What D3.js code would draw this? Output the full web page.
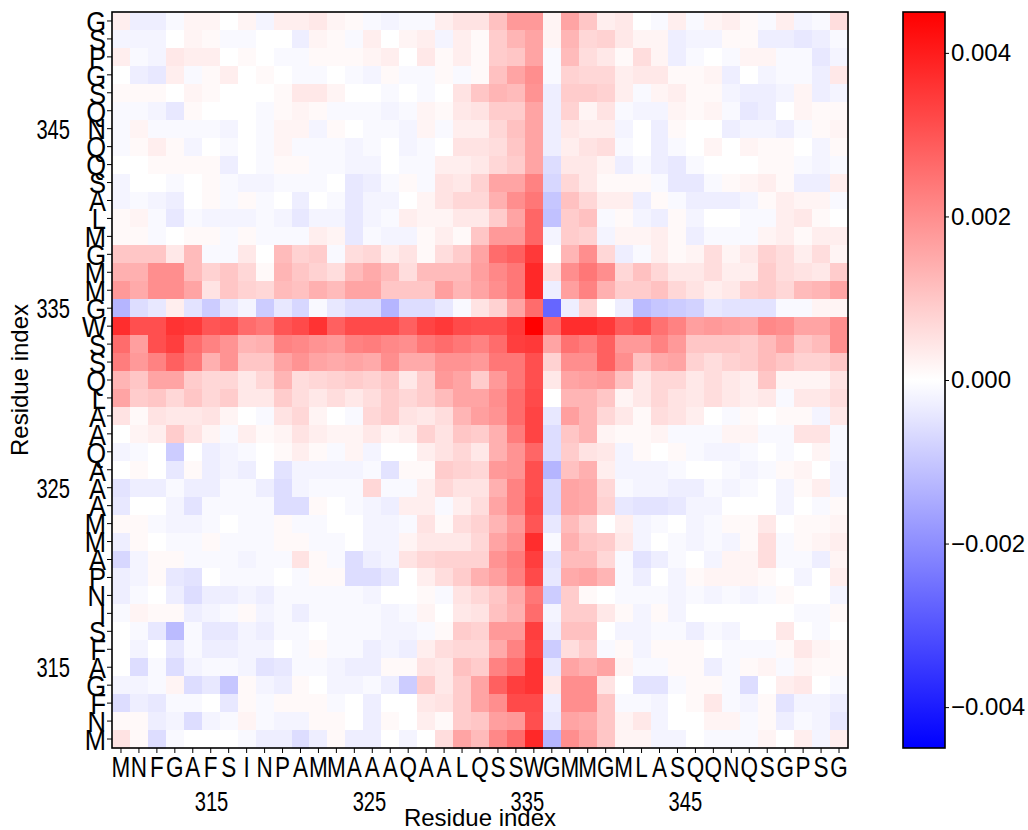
<!DOCTYPE html>
<html>
<head>
<meta charset="utf-8">
<script src="https://cdn.jsdelivr.net/npm/d3@7"></script>
<style>
  body { margin: 0; background: #fff; }
  svg { display: block; }
  text { font-family: "Liberation Sans", Arial, Helvetica, sans-serif; fill: #000; }
</style>
</head>
<body>
<svg id="chart" width="1028" height="830"></svg>
<script>
// Residue sequence along both axes, starting at residue 311
const sequence = ["M","N","F","G","A","F","S","I","N","P","A","M","M","A","A","A","Q","A","A","L",
                  "Q","S","S","W","G","M","M","G","M","L","A","S","Q","Q","N","Q","S","G","P","S","G"];
const firstResidue = 311;
const numberTicks = [315, 325, 335, 345];
const colorTicks = [0.004, 0.002, 0.000, -0.002, -0.004];
const colorLimit = 0.0045;
const valueUnit = 1e-4;

// Pairwise values in units of 1e-4; first row is residue 351 (top), last row residue 311 (bottom);
// columns run from residue 311 (left) to 351 (right).
const matrixRows = [
  [3,-3,-3,-1,2,2,0,2,-2,3,3,4,2,1,-1,-2,-1,-1,3,5,5,11,18,18,2,16,10,3,4,0,-1,3,-1,2,3,1,-1,3,-2,-1,6],
  [-2,-2,-2,0,2,1,-1,-1,0,0,-3,2,1,-1,3,0,2,3,-2,3,1,9,13,16,2,13,7,8,4,2,2,-3,-2,-2,1,1,-3,-3,-4,-3,-1],
  [3,-1,-2,4,3,3,0,1,0,-1,-1,1,1,1,2,3,0,4,1,3,1,9,10,16,-1,12,6,4,1,6,2,-3,-1,0,-1,2,2,-1,-1,-4,-2],
  [0,-3,-4,3,-1,1,3,0,1,0,-1,-1,0,-1,-2,1,-1,-1,1,-1,1,11,16,20,-1,8,7,7,3,4,4,1,1,2,-3,0,-2,-1,-1,-3,4],
  [1,1,1,0,2,1,0,0,0,1,4,4,2,0,0,-1,0,-1,0,5,10,13,12,19,-3,9,9,8,3,-1,2,3,1,1,-2,-3,-3,-2,2,-3,-2],
  [-1,-1,-2,-4,1,0,0,0,-1,1,2,1,-1,-1,-1,-2,-1,2,1,4,5,9,9,16,-3,8,2,5,-1,-2,-2,2,1,2,-1,-4,-3,0,2,1,1],
  [-1,2,-1,-1,-1,-1,-2,0,-1,2,2,-2,1,0,-1,-1,-2,2,-1,3,3,7,11,16,-3,4,3,3,-2,0,-3,1,0,0,-3,-2,-2,-3,-1,1,2],
  [-1,1,3,1,-2,0,-1,0,-1,2,-1,-1,-1,-2,-1,0,-2,-1,0,5,5,6,10,16,-3,3,5,6,-1,0,-3,-1,0,2,0,2,1,1,0,-2,1],
  [0,0,1,1,1,1,-3,0,-1,1,1,-1,-1,-2,-2,0,-1,-1,3,3,4,7,9,16,-6,4,4,2,-3,-1,-3,-4,-1,0,0,0,1,1,-1,-2,-1],
  [-2,0,0,-1,0,1,-1,-2,-2,-1,-1,-1,0,-4,-3,-1,1,-1,5,4,8,16,16,22,-7,7,4,1,1,1,-1,-4,-4,-1,1,2,3,1,-3,-3,3],
  [-2,-1,-2,-3,0,1,-1,1,-1,0,-3,0,-1,-4,-2,-2,0,2,5,7,7,14,20,24,-10,11,7,3,3,-3,1,-1,-3,-3,-3,-2,1,3,2,2,-1],
  [1,2,-1,-4,-1,-2,-2,-2,-1,-2,-4,-2,-2,-4,-2,-1,3,2,2,4,4,9,16,27,-11,9,11,-1,1,-2,-3,1,-2,0,0,-1,-1,3,4,1,0],
  [1,1,-1,0,1,1,-1,1,-1,-1,-1,3,2,-4,-1,-2,-2,1,3,1,10,18,18,27,-2,9,8,-2,2,2,3,1,-3,-1,-1,-1,2,3,1,3,3],
  [10,10,10,4,12,-1,-1,4,0,12,8,9,-1,6,7,3,5,1,6,9,16,26,28,35,0,13,20,7,-3,-1,3,1,2,6,2,4,8,6,3,6,2],
  [14,14,20,20,12,8,10,7,1,13,10,8,6,12,15,12,6,12,12,12,17,21,24,38,6,20,24,20,7,11,7,4,4,6,3,3,9,6,5,4,9],
  [18,15,20,20,16,5,10,8,7,12,11,14,12,16,16,10,10,10,17,13,16,20,24,38,-3,17,22,14,9,9,11,7,5,3,4,8,9,7,12,13,16],
  [-13,-6,-4,3,-5,-9,-4,-2,-9,-4,-7,-1,-4,-6,-6,-13,-6,-6,-4,-1,5,8,16,26,-27,-3,8,0,-3,-12,-10,-9,-8,-4,-5,-5,-5,-1,-1,2,2],
  [37,31,31,36,35,30,31,26,24,30,32,36,28,32,32,32,28,33,35,32,31,31,35,45,27,37,37,35,29,31,25,22,17,18,17,16,21,20,16,16,20],
  [26,17,31,34,26,22,19,13,14,22,21,19,18,22,23,21,20,24,26,24,22,26,34,35,16,25,23,28,18,18,22,18,10,10,10,9,12,16,10,12,20],
  [23,18,22,28,24,14,19,10,10,16,19,16,15,16,15,20,15,15,19,19,18,24,24,31,8,20,20,28,20,11,15,16,8,6,8,9,12,10,8,8,10],
  [13,10,16,16,9,7,7,4,7,13,6,7,8,9,8,10,4,9,18,16,9,18,24,31,4,16,17,18,11,4,7,7,4,6,4,3,10,2,2,2,5],
  [16,9,10,7,10,7,9,4,4,9,6,4,6,4,6,9,7,9,12,16,16,20,26,32,0,13,13,10,2,4,7,5,4,6,4,3,4,-1,4,4,6],
  [5,1,5,4,4,5,2,0,-1,5,7,2,0,-1,7,9,5,4,6,13,17,19,26,33,-4,17,13,7,4,1,6,5,3,0,-1,1,0,1,1,-2,4],
  [0,2,3,9,5,2,-1,3,1,2,5,3,2,2,4,2,3,8,5,10,9,14,23,33,-6,10,13,2,1,1,2,-1,-1,-1,2,2,-1,-1,5,5,-1],
  [-2,-1,0,-9,0,-3,-2,-1,0,1,3,1,-1,2,-2,0,0,3,5,7,4,14,19,27,-6,9,5,4,-2,1,0,1,-1,-2,-2,-1,0,-1,0,2,-1],
  [0,1,0,-4,1,-3,-2,-3,0,-5,-2,-2,-2,-2,-1,-5,1,1,9,8,7,18,19,31,-13,11,14,3,-2,-2,-2,-1,0,0,-1,-2,-1,1,2,0,-2],
  [-5,-3,-3,-1,-3,-3,-1,-1,-3,-6,-2,-1,-1,-1,7,-1,-1,3,7,5,5,14,22,31,-7,16,15,7,-1,-2,-2,-3,-3,-1,-2,-1,0,-2,1,3,-2],
  [-4,0,0,-2,-5,-1,-1,-1,-1,-6,-6,1,0,-1,-2,-3,3,3,-1,3,6,16,22,32,-7,16,15,8,-4,-5,-5,-4,-2,-2,0,0,0,-2,0,-1,1],
  [1,1,-1,-2,-2,-1,0,-1,-1,1,-1,-1,0,0,-2,-2,-1,5,1,6,8,13,18,30,-4,12,8,0,3,-2,-1,0,-2,-1,1,1,4,0,1,1,2],
  [-3,1,0,-1,-1,1,-1,-1,-1,1,1,-1,-1,0,-2,-2,2,4,4,4,7,16,20,37,-1,14,10,9,4,-2,0,-1,-2,-1,-2,1,6,-1,1,2,3],
  [-7,-2,1,1,-1,-1,-1,-2,-1,-1,5,1,-1,-6,-3,-2,5,7,8,8,8,19,23,34,-5,12,12,7,-1,-5,-3,-1,0,-2,2,2,6,-1,-1,-3,2],
  [-3,-2,1,-4,-5,0,-1,-1,-1,0,-1,1,1,-6,-6,-4,0,3,6,9,14,17,22,32,-4,15,16,13,-1,-3,0,-2,1,2,2,2,1,0,-2,0,3],
  [-3,-1,0,-3,-6,-3,-3,-2,-3,-1,-1,-1,-1,-1,-2,0,0,1,-1,5,7,10,15,24,-9,9,1,0,-1,-1,-1,-2,-1,-2,-1,-2,-1,1,0,0,-2],
  [-1,2,1,1,-3,-2,-1,1,-2,-1,-3,-1,-1,-1,-1,-2,-1,2,0,4,5,11,14,26,-2,9,9,4,1,-2,1,-2,0,0,0,0,0,0,-1,-1,1],
  [0,-1,-4,-12,-1,-4,-4,-2,-3,-1,-1,0,-1,-1,-1,-2,-2,-1,1,9,8,18,18,34,-3,11,11,0,-2,-2,-1,-1,-3,-1,-2,0,0,4,0,-1,0],
  [0,-2,0,-4,-1,-3,-3,-2,-2,0,-1,1,-1,-1,-3,-2,-3,3,6,7,7,15,22,33,-9,6,9,-1,1,-2,1,1,1,0,-1,-1,-1,1,4,2,1],
  [0,-6,-1,-6,-2,-1,-1,-2,-5,-4,-1,-1,-2,-3,-3,1,1,5,4,11,9,22,26,36,-4,16,14,16,2,-1,-1,1,1,-3,-1,1,2,-1,2,1,1],
  [-2,-2,-1,2,-6,-4,-10,1,-2,-3,1,0,-2,-2,-1,-3,-9,9,4,9,16,28,34,36,4,20,20,5,0,-5,-5,-1,1,1,-1,-6,0,3,4,0,-1],
  [-6,-3,-4,-1,-1,0,-4,1,-1,1,1,1,-1,0,-3,0,0,4,5,9,16,20,32,32,-3,20,20,10,-1,-1,-2,0,1,4,-1,-2,1,-5,-2,-2,-3],
  [1,1,-3,-2,-6,-2,-1,2,-1,-2,-2,1,1,0,-3,1,0,3,1,9,10,17,18,31,-4,16,15,10,2,4,-2,0,0,2,2,-1,1,-3,-1,-2,-4],
  [5,1,-6,-1,0,0,0,-1,-3,-3,-6,-3,1,-3,-3,0,-2,0,6,16,12,21,26,38,-13,20,16,10,2,2,-2,-2,0,-1,-1,-1,2,0,3,-2,3]
];

const n = sequence.length;
const residues = d3.range(firstResidue, firstResidue + n);

const margin = { left: 112, top: 12, right: 848, bottom: 748 };
const cbar = { left: 903, right: 945 };

const svg = d3.select("#chart");

// Column scale (residue → x) and row scale (residue → y, highest residue on top)
const x = d3.scaleBand().domain(residues).range([margin.left, margin.right]);
const y = d3.scaleBand().domain(residues.slice().reverse()).range([margin.top, margin.bottom]);

// Blue–white–red diverging colormap
const color = d3.scaleLinear()
  .domain([-colorLimit, 0, colorLimit])
  .range(["#0000ff", "#ffffff", "#ff0000"])
  .clamp(true);

// Flatten the rows into cells
const cells = [];
matrixRows.forEach((row, r) => {
  const rowResidue = firstResidue + n - 1 - r;
  row.forEach((v, c) => {
    cells.push({ row: rowResidue, col: residues[c], value: v * valueUnit });
  });
});

svg.append("g")
  .attr("shape-rendering", "crispEdges")
  .selectAll("rect")
  .data(cells)
  .join("rect")
  .attr("x", d => x(d.col))
  .attr("y", d => y(d.row))
  .attr("width", x.bandwidth() + 0.6)
  .attr("height", y.bandwidth() + 0.6)
  .attr("fill", d => color(d.value));

// Frame around the heatmap
svg.append("rect")
  .attr("x", margin.left).attr("y", margin.top)
  .attr("width", margin.right - margin.left).attr("height", margin.bottom - margin.top)
  .attr("fill", "none").attr("stroke", "#000").attr("stroke-width", 1.6);

const letterSize = 30;
const xLetterStretch = 0.75, yLetterStretch = 0.85;
const numberSize = 28, numberStretch = 0.72;

// Bottom axis: one-letter residue codes
const xAxis = d3.axisBottom(x)
  .tickSize(5)
  .tickPadding(4)
  .tickFormat(res => sequence[res - firstResidue]);
const gx = svg.append("g").attr("transform", `translate(0,${margin.bottom})`).call(xAxis);
gx.select(".domain").remove();
gx.selectAll(".tick line").attr("stroke", "#000").attr("stroke-width", 1);
gx.selectAll(".tick text")
  .attr("font-size", letterSize)
  .attr("y", 7)
  .attr("dy", "0.72em")
  .attr("transform", `scale(${xLetterStretch},1)`);

// Left axis: one-letter residue codes
const yAxis = d3.axisLeft(y)
  .tickSize(5)
  .tickFormat(res => sequence[res - firstResidue]);
const gy = svg.append("g").attr("transform", `translate(${margin.left},0)`).call(yAxis);
gy.select(".domain").remove();
gy.selectAll(".tick line").attr("stroke", "#000").attr("stroke-width", 1);
gy.selectAll(".tick text")
  .attr("font-size", letterSize)
  .attr("x", -6 / yLetterStretch)
  .attr("dy", "0.36em")
  .attr("transform", `scale(${yLetterStretch},1)`);

// Residue numbers on the bottom, on their own linear scale
const numberScale = d3.scaleLinear()
  .domain([firstResidue - 2.3, firstResidue + n + 3.3])
  .range([margin.left, margin.right]);
svg.append("g").selectAll("text")
  .data(numberTicks)
  .join("text")
  .attr("transform", d => `translate(${numberScale(d)},${margin.bottom + 63}) scale(${numberStretch},1)`)
  .attr("text-anchor", "middle")
  .attr("font-size", numberSize)
  .text(d => d);

// Residue numbers on the left, aligned with their rows
svg.append("g").selectAll("text")
  .data(numberTicks)
  .join("text")
  .attr("transform", d => `translate(${margin.left - 42},${y(d) + y.bandwidth() / 2}) scale(${numberStretch},1)`)
  .attr("text-anchor", "end")
  .attr("dy", "0.36em")
  .attr("font-size", numberSize)
  .text(d => d);

// Axis titles
svg.append("text")
  .attr("x", (margin.left + margin.right) / 2)
  .attr("y", 826)
  .attr("text-anchor", "middle")
  .attr("font-size", 24)
  .text("Residue index");
svg.append("text")
  .attr("transform", `translate(28,${(margin.top + margin.bottom) / 2}) rotate(-90)`)
  .attr("text-anchor", "middle")
  .attr("font-size", 24)
  .text("Residue index");

// Colorbar
const cScale = d3.scaleLinear().domain([-colorLimit, colorLimit]).range([margin.bottom, margin.top]);
const defs = svg.append("defs");
const grad = defs.append("linearGradient")
  .attr("id", "bwr").attr("x1", 0).attr("y1", 1).attr("x2", 0).attr("y2", 0);
grad.selectAll("stop")
  .data(d3.range(0, 1.0001, 0.05))
  .join("stop")
  .attr("offset", t => t)
  .attr("stop-color", t => color(-colorLimit + t * 2 * colorLimit));

svg.append("rect")
  .attr("x", cbar.left).attr("y", margin.top)
  .attr("width", cbar.right - cbar.left).attr("height", margin.bottom - margin.top)
  .attr("fill", "url(#bwr)")
  .attr("stroke", "#000").attr("stroke-width", 1.6);

const cAxis = d3.axisRight(cScale)
  .tickValues(colorTicks)
  .tickSize(4)
  .tickPadding(2)
  .tickFormat(d3.format(".3f"));
const gc = svg.append("g").attr("transform", `translate(${cbar.right},0)`).call(cAxis);
gc.select(".domain").remove();
gc.selectAll(".tick line").attr("stroke", "#000");
gc.selectAll(".tick text").attr("font-size", 24);
</script>
</body>
</html>
